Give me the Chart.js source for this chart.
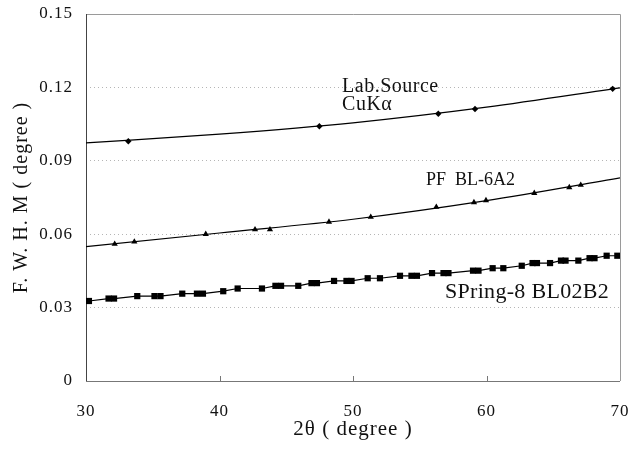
<!DOCTYPE html>
<html>
<head>
<meta charset="utf-8">
<script src="https://cdn.jsdelivr.net/npm/chart.js@4"></script>
<style>
  html, body { margin: 0; padding: 0; background: #fff; }
  #wrap { width: 640px; height: 450px; }
</style>
</head>
<body>
<div id="wrap"><canvas id="chartFwhm" width="640" height="450"></canvas></div>
<script>
// lab source (CuK alpha) measured points
const labX = [33.17, 47.48, 56.39, 59.14, 69.45];
const labY = [0.0980, 0.1041, 0.1092, 0.1112, 0.1194];
// PF BL-6A2 points
const pfX = [32.15, 33.62, 38.97, 42.66, 43.78, 48.2, 51.33, 56.24, 59.06, 59.96, 63.58, 66.2, 67.06];
const pfY = [0.0560, 0.0569, 0.0600, 0.0619, 0.0619, 0.0650, 0.0670, 0.0711, 0.0730, 0.0738, 0.0768, 0.0791, 0.0801];
// SPring-8 BL02B2 points
const spX = [30.22, 31.69, 32.10, 33.84, 35.13, 35.58, 37.21, 38.31, 38.76, 40.28, 41.36, 43.18,
  44.19, 44.61, 45.90, 46.89, 47.30, 48.58, 49.51, 49.89, 51.10, 52.02, 53.52, 54.38, 54.79,
  55.92, 56.78, 57.15, 58.99, 59.40, 60.46, 61.26, 62.64, 63.45, 63.78, 64.76, 65.58, 65.92,
  66.88, 67.72, 68.09, 69.00, 69.80];
const spY = [0.0327, 0.0337, 0.0337, 0.0347, 0.0347, 0.0347, 0.0357, 0.0357, 0.0357, 0.0367, 0.0378, 0.0378,
  0.0389, 0.0389, 0.0389, 0.0400, 0.0400, 0.0409, 0.0409, 0.0409, 0.0420, 0.0420, 0.0430, 0.0430, 0.0430,
  0.0441, 0.0441, 0.0441, 0.0451, 0.0451, 0.0461, 0.0461, 0.0471, 0.0482, 0.0482, 0.0482, 0.0492, 0.0492,
  0.0492, 0.0502, 0.0502, 0.0512, 0.0512];
// fitted curves
const fitX = [30, 40, 50, 60, 70];
const labFit = [0.0973, 0.1009, 0.1055, 0.1119, 0.1198];
const pfFit = [0.0549, 0.0605, 0.0661, 0.0737, 0.0830];

const xTicks = [30, 40, 50, 60, 70];
const yTicks = [0, 0.03, 0.06, 0.09, 0.12, 0.15];

// labels placed in data space (x, baseline y)
const notes = [
  { text: "Lab.Source", x: 49.18, y: 0.1183, size: 20, sp: 0.5 },
  { text: "CuKα", x: 49.18, y: 0.1109, size: 20, sp: 0.5 },
  { text: "PF  BL-6A2", x: 55.47, y: 0.0802, size: 18, sp: 0 },
  { text: "SPring-8 BL02B2", x: 56.89, y: 0.0340, size: 22, sp: 0.3 }
];

const pts = (xs, ys) => xs.map((x, i) => ({ x, y: ys[i] }));

const framePlugin = {
  id: "frame",
  beforeDraw(c) {
    c.ctx.letterSpacing = "1px";
  },
  beforeDatasetsDraw(c) {
    const { ctx, chartArea: a, scales } = c;
    ctx.save();
    ctx.lineWidth = 1;
    ctx.strokeStyle = "#9a9a9a";
    ctx.beginPath();
    ctx.moveTo(a.left, a.top + 0.5);
    ctx.lineTo(a.right + 0.5, a.top + 0.5);
    ctx.lineTo(a.right + 0.5, a.bottom);
    ctx.stroke();
    ctx.strokeStyle = "#444";
    ctx.beginPath();
    ctx.moveTo(a.left + 0.5, a.top);
    ctx.lineTo(a.left + 0.5, a.bottom + 0.5);
    ctx.stroke();
    ctx.strokeStyle = "#777";
    ctx.beginPath();
    ctx.moveTo(a.left, a.bottom + 0.5);
    ctx.lineTo(a.right, a.bottom + 0.5);
    xTicks.slice(1, -1).forEach(v => {
      const px = Math.round(scales.x.getPixelForValue(v)) + 0.5;
      ctx.moveTo(px, a.bottom);
      ctx.lineTo(px, a.bottom - 5);
    });
    ctx.stroke();
    ctx.restore();
  },
  afterDraw(c) {
    const { ctx, scales } = c;
    ctx.save();
    ctx.fillStyle = "#111";
    ctx.textBaseline = "alphabetic";
    ctx.textAlign = "left";
    notes.forEach(n => {
      ctx.font = `${n.size}px "Liberation Serif", serif`;
      ctx.letterSpacing = n.sp + "px";
      ctx.fillText(n.text, scales.x.getPixelForValue(n.x), scales.y.getPixelForValue(n.y));
    });
    ctx.restore();
  }
};

new Chart(document.getElementById("chartFwhm"), {
  type: "scatter",
  data: {
    datasets: [
      { label: "lab fit", data: pts(fitX, labFit), showLine: true, pointRadius: 0,
        borderColor: "#000", borderWidth: 1.2, cubicInterpolationMode: "monotone" },
      { label: "pf fit", data: pts(fitX, pfFit), showLine: true, pointRadius: 0,
        borderColor: "#000", borderWidth: 1.2, cubicInterpolationMode: "monotone" },
      { label: "SPring-8 BL02B2", data: pts(spX, spY), showLine: true, borderColor: "#000",
        borderWidth: 1.2, pointStyle: "rect", pointRadius: 4.4, backgroundColor: "#000",
        pointBorderColor: "#000", pointBorderWidth: 0 },
      { label: "PF BL-6A2", data: pts(pfX, pfY), pointStyle: "triangle", pointRadius: 3.6,
        backgroundColor: "#000", pointBorderColor: "#000", pointBorderWidth: 0 },
      { label: "Lab.Source CuKα", data: pts(labX, labY), pointStyle: "rectRot", pointRadius: 3.2,
        backgroundColor: "#000", pointBorderColor: "#000", pointBorderWidth: 0 }
    ]
  },
  options: {
    responsive: false,
    animation: false,
    layout: { padding: { left: 0, right: 20, top: 14, bottom: 0 } },
    plugins: { legend: { display: false }, tooltip: { enabled: false } },
    scales: {
      x: {
        type: "linear", min: 30, max: 70,
        afterBuildTicks: s => { s.ticks = xTicks.map(v => ({ value: v })); },
        afterFit: s => { s.height = 69; s.paddingLeft = 0; s.paddingRight = 0; },
        grid: { display: false, drawTicks: false },
        border: { display: false },
        ticks: { padding: 20, color: "#111", font: { family: "Liberation Serif", size: 17 } },
        title: { display: true, text: "2θ ( degree )", color: "#111",
          font: { family: "Liberation Serif", size: 21 }, padding: { top: 0, bottom: 8 } }
      },
      y: {
        min: 0, max: 0.15,
        afterBuildTicks: s => { s.ticks = yTicks.map(v => ({ value: v })); },
        afterFit: s => { s.width = 86; s.paddingTop = 0; s.paddingBottom = 0; },
        grid: { color: "#b5b5b5", lineWidth: 1, drawTicks: false },
        border: { display: false, dash: [1, 3] },
        ticks: { padding: 13, color: "#111", font: { family: "Liberation Serif", size: 17 },
          callback: v => v === 0 ? "0" : v.toFixed(2) },
        title: { display: true, text: "F. W. H. M ( degree )", color: "#111",
          font: { family: "Liberation Serif", size: 20 }, padding: { top: 10, bottom: 0 } }
      }
    }
  },
  plugins: [framePlugin]
});
</script>
</body>
</html>
